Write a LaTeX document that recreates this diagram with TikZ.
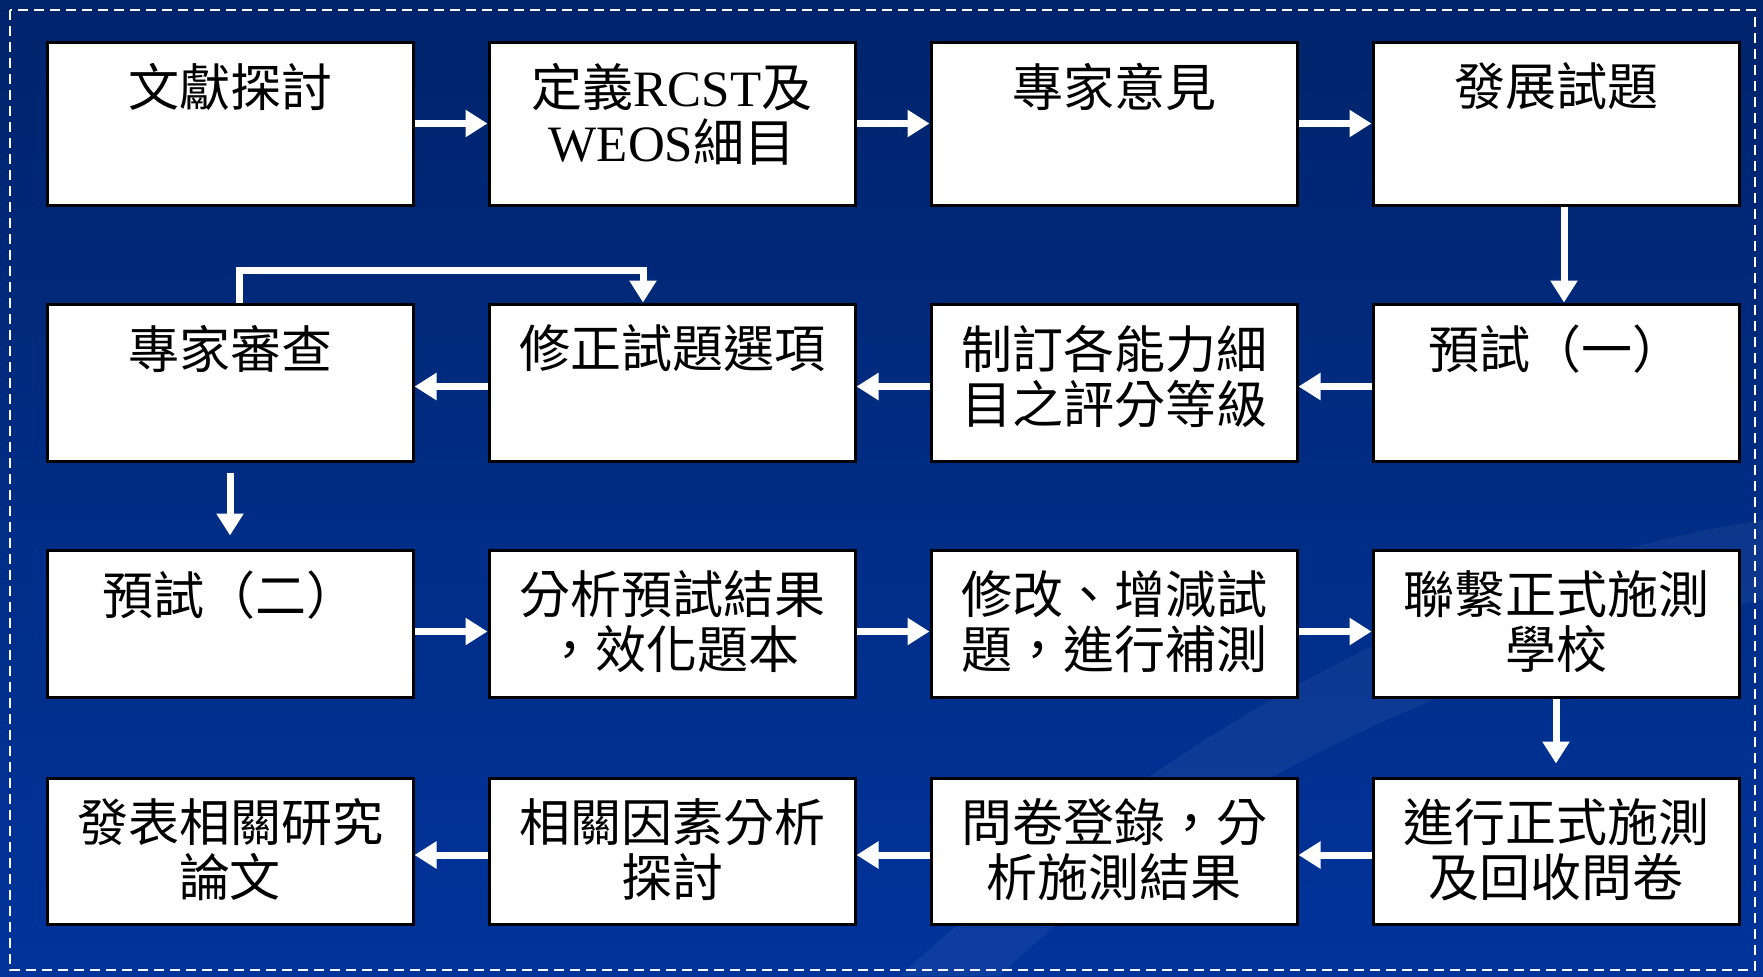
\documentclass[tikz,border=0pt]{standalone}
\usepackage{fontspec}
\setmainfont{Liberation Serif}
\newfontfamily\cjk{Noto Sans CJK TC}
\usetikzlibrary{arrows.meta,calc}
\definecolor{bgtop}{RGB}{0,36,108}
\definecolor{bgbot}{RGB}{0,52,155}
\tikzset{
  stepbox/.style={draw=black, line width=1.5pt, fill=white, minimum width=183pt, inner sep=0pt},
  txt/.style={anchor=north, inner sep=0pt, align=center, text=black,
    font=\cjk\fontsize{25.5pt}{27.5pt}\selectfont},
  flow/.style={draw=white, line width=3.5pt, -{Triangle[length=11pt,width=13pt]}},
}
\begin{document}
\begin{tikzpicture}[x=0.5pt,y=-0.5pt]
\useasboundingbox (0,0) rectangle (1763,976);
\shade[top color=bgtop, bottom color=bgbot] (0,0) rectangle (1763,976);
\fill[white, opacity=0.05] (900,976) .. controls (1200,700) and (1500,560) .. (1763,520) -- (1763,600) .. controls (1500,650) and (1200,780) .. (1000,976) -- cycle;
\draw[white, line width=1pt, dash pattern=on 5pt off 3pt] (10,10) rectangle (1755,970);

% boxes
\node[stepbox, minimum height=81.5pt] (b1) at (230,123.5) {};
\node[stepbox, minimum height=81.5pt] (b2) at (672,123.5) {};
\node[stepbox, minimum height=81.5pt] (b3) at (1114,123.5) {};
\node[stepbox, minimum height=81.5pt] (b4) at (1556,123.5) {};
\node[stepbox, minimum height=78.5pt] (b5) at (1556,382.5) {};
\node[stepbox, minimum height=78.5pt] (b6) at (1114,382.5) {};
\node[stepbox, minimum height=78.5pt] (b7) at (672,382.5) {};
\node[stepbox, minimum height=78.5pt] (b8) at (230,382.5) {};
\node[stepbox, minimum height=73.5pt] (b9) at (230,623.5) {};
\node[stepbox, minimum height=73.5pt] (b10) at (672,623.5) {};
\node[stepbox, minimum height=73.5pt] (b11) at (1114,623.5) {};
\node[stepbox, minimum height=73.5pt] (b12) at (1556,623.5) {};
\node[stepbox, minimum height=73pt] (b13) at (1556,851) {};
\node[stepbox, minimum height=73pt] (b14) at (1114,851) {};
\node[stepbox, minimum height=73pt] (b15) at (672,851) {};
\node[stepbox, minimum height=73pt] (b16) at (230,851) {};

% texts
\node[txt] (t1) at ([yshift=-11pt]b1.north) {文獻探討};
\node[txt] (t2) at ([yshift=-11pt]b2.north) {定義{\rmfamily RCST}及\\{\rmfamily WEOS}細目};
\node[txt] (t3) at ([yshift=-11pt]b3.north) {專家意見};
\node[txt] (t4) at ([yshift=-11pt]b4.north) {發展試題};
\node[txt] (t5) at ([yshift=-11pt]b5.north) {預試（一）};
\node[txt] (t6) at ([yshift=-11pt]b6.north) {制訂各能力細\\目之評分等級};
\node[txt] (t7) at ([yshift=-11pt]b7.north) {修正試題選項};
\node[txt] (t8) at ([yshift=-11pt]b8.north) {專家審查};
\node[txt] (t9) at ([yshift=-11pt]b9.north) {預試（二）};
\node[txt] (t10) at ([yshift=-11pt]b10.north) {分析預試結果\\，效化題本};
\node[txt] (t11) at ([yshift=-11pt]b11.north) {修改、增減試\\題，進行補測};
\node[txt] (t12) at ([yshift=-11pt]b12.north) {聯繫正式施測\\學校};
\node[txt] (t13) at ([yshift=-11pt]b13.north) {進行正式施測\\及回收問卷};
\node[txt] (t14) at ([yshift=-11pt]b14.north) {問卷登錄，分\\析施測結果};
\node[txt] (t15) at ([yshift=-11pt]b15.north) {相關因素分析\\探討};
\node[txt] (t16) at ([yshift=-11pt]b16.north) {發表相關研究\\論文};

% connectors
\draw[flow] (b1.east) -- (b2.west);
\draw[flow] (b2.east) -- (b3.west);
\draw[flow] (b3.east) -- (b4.west);
\draw[flow] ([xshift=4pt]b4.south) -- ([xshift=4pt]b5.north);
\draw[flow] ([yshift=-2pt]b5.west) -- ([yshift=-2pt]b6.east);
\draw[flow] ([yshift=-2pt]b6.west) -- ([yshift=-2pt]b7.east);
\draw[flow] ([yshift=-2pt]b7.west) -- ([yshift=-2pt]b8.east);
\coordinate (fbL) at ($(b8.north)+(9,-32)$);
\coordinate (fbR) at ($(b7.north)+(-29,-32)$);
\draw[flow, -] ([xshift=4.5pt]b8.north) -- (fbL) -- ([xshift=2pt]fbR);
\draw[flow] (fbR) -- ([xshift=-14.5pt]b7.north);
\draw[flow] ([yshift=-5pt]b8.south) -- ([yshift=6.5pt]b9.north);
\draw[flow] ([yshift=-4pt]b9.east) -- ([yshift=-4pt]b10.west);
\draw[flow] ([yshift=-4pt]b10.east) -- ([yshift=-4pt]b11.west);
\draw[flow] ([yshift=-4pt]b11.east) -- ([yshift=-4pt]b12.west);
\draw[flow] (b12.south) -- ([yshift=6.5pt]b13.north);
\draw[flow] ([yshift=-2pt]b13.west) -- ([yshift=-2pt]b14.east);
\draw[flow] ([yshift=-2pt]b14.west) -- ([yshift=-2pt]b15.east);
\draw[flow] ([yshift=-2pt]b15.west) -- ([yshift=-2pt]b16.east);
\end{tikzpicture}
\end{document}
